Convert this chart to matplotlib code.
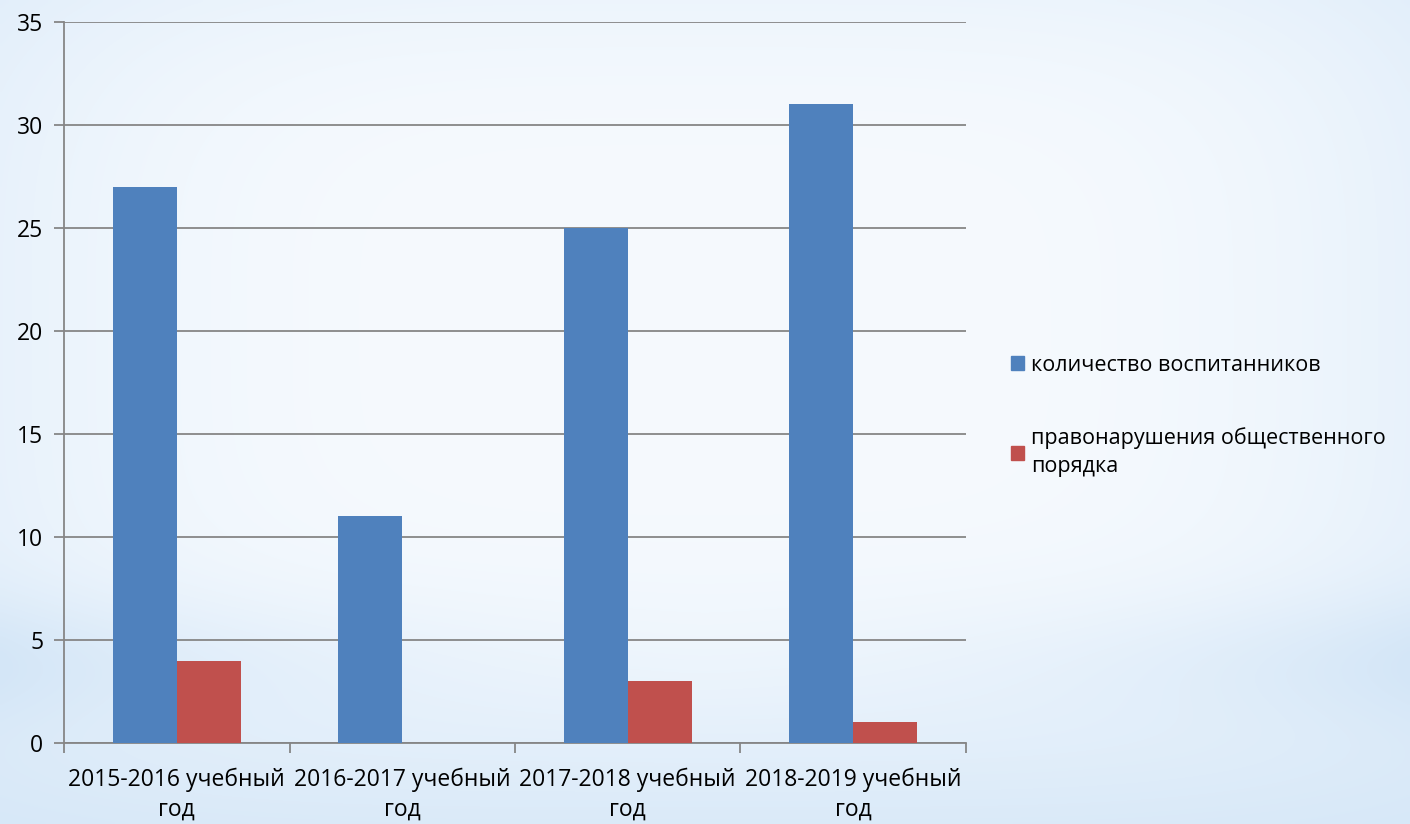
import matplotlib.pyplot as plt
import numpy as np
from matplotlib.patches import Patch

plt.rcParams['font.family'] = ['Open Sans', 'DejaVu Sans']

years = ['2015-2016 учебный\nгод', '2016-2017 учебный\nгод',
         '2017-2018 учебный\nгод', '2018-2019 учебный\nгод']
pupils = [27, 11, 25, 31]
offences = [4, 0, 3, 1]
series_names = ['количество воспитанников', 'правонарушения общественного\nпорядка']
blue = '#4F81BD'
red = '#C0504D'

fig = plt.figure(figsize=(14.1, 8.24), dpi=100)

# pale blue background, almost white in the middle, bluer band near the bottom
bg = fig.add_axes([0, 0, 1, 1], zorder=-10)
h, w = 206, 352
yy, xx = np.mgrid[0:1:h * 1j, 0:1:w * 1j]   # yy measured from the top
d = np.exp(-((xx - 0.5) / 0.6) ** 4 - ((yy - 0.4) / 0.55) ** 4)
d = d - 0.4 * np.exp(-((yy - 0.8) / 0.08) ** 2) * np.clip(np.abs(xx - 0.5) / 0.5, 0, 1) ** 1.5
d = np.clip(d, 0, 1)
edge = np.array([210, 229, 247]) / 255
light = np.array([246, 250, 254]) / 255
img = edge + (light - edge) * d[..., None]
bg.imshow(img, aspect='auto', extent=[0, 1, 0, 1], interpolation='bilinear')
bg.axis('off')

ax = fig.add_axes([0.0454, 0.0983, 0.6397, 0.875])
ax.patch.set_alpha(0)
x = np.arange(len(years))
bw = 0.284
ax.bar(x - bw / 2, pupils, bw, color=blue, zorder=3)
ax.bar(x + bw / 2, offences, bw, color=red, zorder=3)

ax.set_xlim(-0.5, len(years) - 0.5)
ax.set_ylim(0, 35)
ax.set_yticks(range(0, 36, 5))
ax.yaxis.grid(True, color='#868686', linewidth=1.3, zorder=0)
ax.set_axisbelow(True)
for s in ['top', 'right']:
    ax.spines[s].set_visible(False)
for s in ['left', 'bottom']:
    ax.spines[s].set_color('#868686')
    ax.spines[s].set_linewidth(1.3)

ax.set_xticks(np.arange(-0.5, len(years)), minor=False)
ax.set_xticklabels([])
ax.set_xticks(x, minor=True)
ax.set_xticklabels(years, minor=True, fontsize=16.5, linespacing=1.3)
ax.tick_params(axis='x', which='minor', length=0, pad=18)
ax.tick_params(axis='x', which='major', length=7, color='#868686', width=1.3)
ax.tick_params(axis='y', length=7, color='#868686', width=1.3, labelsize=16.5, pad=8)

handles = [Patch(color=blue), Patch(color=red)]
leg = fig.legend(handles, series_names, loc='upper left', bbox_to_anchor=(0.703, 0.593),
                 frameon=False, fontsize=15.5, handlelength=0.6, handleheight=0.6,
                 handletextpad=0.35, labelspacing=2.4)
for t in leg.get_texts():
    t.set_linespacing(1.45)

fig.savefig('out.png', dpi=100)
